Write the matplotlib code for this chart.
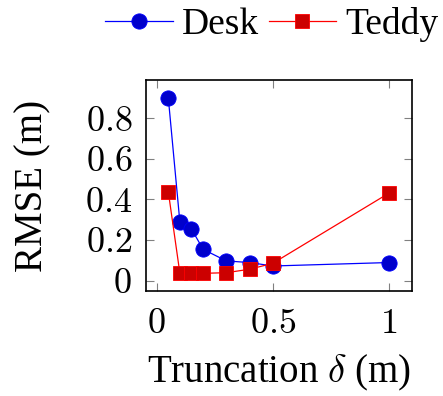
import matplotlib
matplotlib.use("Agg")
import matplotlib.pyplot as plt
from matplotlib.ticker import FuncFormatter

plt.rcParams['font.family'] = ['Liberation Serif', 'DejaVu Serif']
plt.rcParams['mathtext.fontset'] = 'cm'

x_vals = [0.05, 0.1, 0.15, 0.2, 0.3, 0.4, 0.5, 1.0]
desk = [0.90, 0.287, 0.254, 0.154, 0.097, 0.089, 0.072, 0.089]
teddy = [0.438, 0.036, 0.036, 0.036, 0.039, 0.056, 0.085, 0.43]
xticks = [0, 0.5, 1]
yticks = [0, 0.2, 0.4, 0.6, 0.8]

fig = plt.figure(figsize=(4.43, 3.96), dpi=100)
ax = fig.add_axes([146/443, 1-291/396, 266/443, 211/396])

ax.plot(x_vals, desk, color='blue', lw=0.9, marker='o', ms=11,
        markerfacecolor=(0, 0, 0.8), markeredgecolor='blue', markeredgewidth=0.6, label='Desk')
ax.plot(x_vals, teddy, color='red', lw=0.9, marker='s', ms=10,
        markerfacecolor=(0.8, 0, 0), markeredgecolor='red', markeredgewidth=0.6, label='Teddy')

ax.set_xlim(-0.046, 1.10)
ax.set_ylim(-0.051, 0.987)
ax.set_xticks(xticks)
ax.set_yticks(yticks)
fmt = FuncFormatter(lambda v, p: r'$%g$' % v)
ax.xaxis.set_major_formatter(fmt)
ax.yaxis.set_major_formatter(fmt)
ax.tick_params(direction='in', length=6, width=0.8, color='#808080',
               top=True, right=True, labelsize=26)
ax.tick_params(axis='y', pad=10)
ax.tick_params(axis='x', pad=12)
for s in ax.spines.values():
    s.set_linewidth(1.2)

ax.set_xlabel(r'Truncation $\delta$ (m)', fontsize=28, labelpad=9)
ax.set_ylabel('RMSE (m)', fontsize=28, labelpad=24)

leg = fig.legend(loc='center', bbox_to_anchor=(272/443, 1-25/396), ncol=2,
                 frameon=False, fontsize=27, handlelength=1.8, handletextpad=0.25,
                 columnspacing=0.25, borderpad=0, borderaxespad=0)

fig.savefig('out.png', dpi=100)
